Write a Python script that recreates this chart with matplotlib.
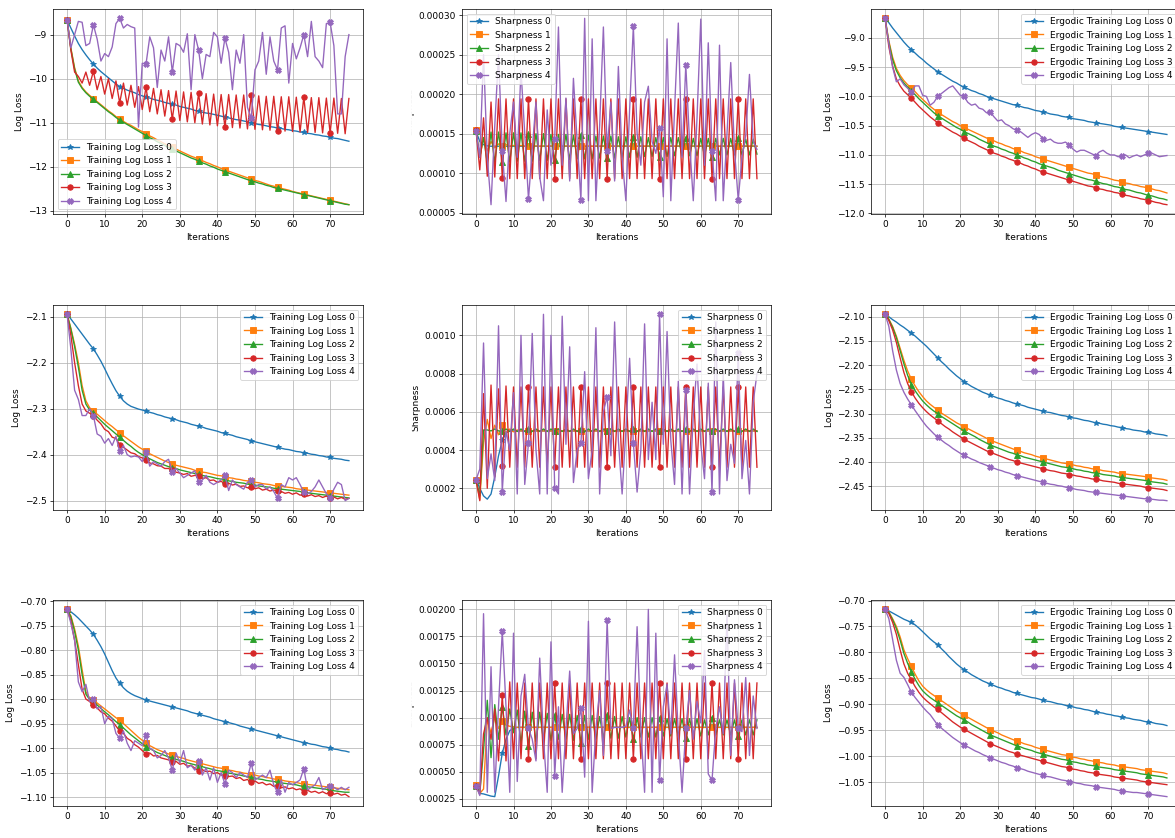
import numpy as np
import matplotlib
matplotlib.use("Agg")
import matplotlib.pyplot as plt
from matplotlib.patches import Rectangle
from matplotlib.ticker import MultipleLocator

# 3x3 grid: training loss / sharpness / ergodic loss for three runs,
# five step-size settings each, 76 iterations per curve.

# ---------------------------------------------------------------------
# run 1
# ---------------------------------------------------------------------
train_1 = [
    [-8.665, -8.85, -9.03, -9.2, -9.34, -9.46, -9.57,
     -9.67, -9.76, -9.84, -9.91, -9.98, -10.05, -10.12,
     -10.18, -10.22, -10.26, -10.29, -10.32, -10.36, -10.39,
     -10.42, -10.44, -10.47, -10.49, -10.51, -10.54, -10.56,
     -10.58, -10.6, -10.63, -10.65, -10.67, -10.69, -10.72,
     -10.74, -10.76, -10.78, -10.79, -10.81, -10.83, -10.85,
     -10.87, -10.89, -10.91, -10.93, -10.94, -10.96, -10.98,
     -11.0, -11.02, -11.04, -11.05, -11.07, -11.09, -11.1,
     -11.12, -11.13, -11.15, -11.16, -11.18, -11.19, -11.21,
     -11.22, -11.24, -11.25, -11.27, -11.28, -11.3, -11.31,
     -11.33, -11.35, -11.36, -11.38, -11.4, -11.42],
    [-8.665, -9.3, -9.75, -10.05, -10.2, -10.3, -10.38,
     -10.45, -10.52, -10.59, -10.66, -10.73, -10.79, -10.86,
     -10.92, -10.97, -11.02, -11.06, -11.11, -11.16, -11.2,
     -11.25, -11.3, -11.34, -11.39, -11.43, -11.48, -11.52,
     -11.56, -11.6, -11.64, -11.68, -11.72, -11.76, -11.79,
     -11.83, -11.86, -11.9, -11.93, -11.97, -12.0, -12.04,
     -12.07, -12.1, -12.13, -12.16, -12.19, -12.22, -12.25,
     -12.28, -12.31, -12.33, -12.36, -12.39, -12.42, -12.44,
     -12.47, -12.49, -12.51, -12.53, -12.56, -12.58, -12.6,
     -12.62, -12.64, -12.66, -12.68, -12.7, -12.72, -12.74,
     -12.76, -12.78, -12.8, -12.82, -12.84, -12.86],
    [-8.665, -9.32, -9.78, -10.08, -10.22, -10.32, -10.4,
     -10.47, -10.54, -10.61, -10.68, -10.75, -10.81, -10.88,
     -10.94, -10.99, -11.04, -11.09, -11.14, -11.19, -11.24,
     -11.29, -11.34, -11.38, -11.43, -11.47, -11.52, -11.56,
     -11.6, -11.64, -11.68, -11.72, -11.76, -11.8, -11.83,
     -11.87, -11.91, -11.94, -11.98, -12.01, -12.05, -12.08,
     -12.11, -12.14, -12.17, -12.2, -12.23, -12.26, -12.29,
     -12.32, -12.34, -12.37, -12.39, -12.42, -12.44, -12.47,
     -12.49, -12.51, -12.53, -12.55, -12.57, -12.59, -12.61,
     -12.63, -12.65, -12.67, -12.69, -12.71, -12.73, -12.75,
     -12.77, -12.79, -12.81, -12.83, -12.85, -12.86],
    [-8.665, -9.35, -9.85, -9.95, -10.1, -9.85, -10.15,
     -9.83, -10.25, -9.95, -10.35, -10.0, -10.45, -10.05,
     -10.55, -10.1, -10.6, -10.15, -10.65, -10.18, -10.7,
     -10.2, -10.75, -10.22, -10.8, -10.25, -10.85, -10.27,
     -10.92, -10.28, -10.95, -10.3, -10.98, -10.31, -11.0,
     -10.33, -11.03, -10.34, -11.05, -10.35, -11.07, -10.36,
     -11.1, -10.36, -11.11, -10.37, -11.12, -10.37, -11.14,
     -10.38, -11.15, -10.39, -11.16, -10.4, -11.17, -10.4,
     -11.18, -10.41, -11.19, -10.41, -11.2, -10.42, -11.21,
     -10.42, -11.22, -10.43, -11.22, -10.43, -11.23, -10.44,
     -11.23, -10.44, -11.24, -10.45, -11.25, -10.45],
    [-8.665, -9.3, -9.0, -8.7, -8.72, -9.25, -9.2,
     -8.78, -9.1, -9.6, -9.43, -9.5, -9.28, -8.75,
     -8.63, -8.85, -8.77, -8.82, -8.85, -11.1, -9.65,
     -9.67, -9.05, -9.3, -10.2, -9.35, -9.6, -9.05,
     -9.85, -9.2, -9.25, -9.4, -8.98, -10.25, -9.0,
     -9.35, -10.0, -9.45, -9.5, -8.95, -9.05, -9.65,
     -9.08, -9.4, -10.25, -9.35, -9.65, -9.0, -10.65,
     -10.9, -9.8, -9.6, -8.95, -9.9, -9.05, -9.6,
     -9.8, -8.85, -8.8, -10.1, -9.2, -9.55, -9.3,
     -9.0, -9.5, -8.7, -9.5, -9.6, -9.75, -8.75,
     -8.72, -9.25, -10.8, -10.8, -9.5, -9.0],
]

# sharpness values in units of 1e-4
sharp_1 = [
    [1.53, 1.40, 1.36, 1.345, 1.34, 1.34, 1.34,
     1.34, 1.34, 1.34, 1.34, 1.34, 1.34, 1.34,
     1.34, 1.34, 1.34, 1.34, 1.34, 1.34, 1.34,
     1.34, 1.34, 1.34, 1.34, 1.34, 1.34, 1.34,
     1.34, 1.34, 1.34, 1.34, 1.34, 1.34, 1.34,
     1.34, 1.34, 1.34, 1.34, 1.34, 1.34, 1.34,
     1.34, 1.34, 1.34, 1.34, 1.34, 1.34, 1.34,
     1.34, 1.34, 1.34, 1.34, 1.34, 1.34, 1.34,
     1.34, 1.34, 1.34, 1.34, 1.34, 1.34, 1.34,
     1.34, 1.34, 1.34, 1.34, 1.34, 1.34, 1.34,
     1.34, 1.34, 1.34, 1.34, 1.34, 1.34],
    [1.54, 1.20, 1.45, 1.28, 1.40, 1.32, 1.37,
     1.34, 1.36, 1.34, 1.35, 1.34, 1.35, 1.34,
     1.345, 1.34, 1.345, 1.34, 1.345, 1.34, 1.345,
     1.34, 1.345, 1.34, 1.345, 1.34, 1.345, 1.34,
     1.345, 1.34, 1.345, 1.34, 1.345, 1.34, 1.345,
     1.34, 1.345, 1.34, 1.345, 1.34, 1.345, 1.34,
     1.345, 1.34, 1.345, 1.34, 1.345, 1.34, 1.345,
     1.34, 1.345, 1.34, 1.345, 1.34, 1.345, 1.34,
     1.345, 1.34, 1.345, 1.34, 1.345, 1.34, 1.345,
     1.34, 1.345, 1.34, 1.345, 1.34, 1.345, 1.34,
     1.345, 1.34, 1.345, 1.34, 1.345, 1.34],
    [1.53, 1.20, 1.45, 1.13, 1.52, 1.13, 1.52,
     1.14, 1.51, 1.14, 1.51, 1.15, 1.51, 1.15,
     1.50, 1.15, 1.50, 1.16, 1.50, 1.16, 1.49,
     1.16, 1.49, 1.17, 1.49, 1.17, 1.48, 1.18,
     1.48, 1.18, 1.48, 1.18, 1.47, 1.19, 1.47,
     1.19, 1.47, 1.19, 1.46, 1.20, 1.46, 1.20,
     1.46, 1.20, 1.46, 1.21, 1.45, 1.21, 1.45,
     1.21, 1.45, 1.21, 1.45, 1.22, 1.45, 1.22,
     1.45, 1.22, 1.44, 1.22, 1.44, 1.22, 1.44,
     1.21, 1.44, 1.23, 1.44, 1.23, 1.44, 1.23,
     1.44, 1.23, 1.43, 1.23, 1.43, 1.24],
    [1.54, 1.04, 1.70, 0.96, 1.90, 0.95, 1.94,
     0.94, 1.94, 0.93, 1.94, 0.93, 1.94, 0.93,
     1.94, 0.93, 1.94, 0.93, 1.94, 0.93, 1.94,
     0.93, 1.94, 0.93, 1.94, 0.93, 1.94, 0.93,
     1.94, 0.93, 1.94, 0.93, 1.94, 0.93, 1.94,
     0.93, 1.94, 0.93, 1.94, 0.93, 1.94, 0.93,
     1.94, 0.93, 1.94, 0.93, 1.94, 0.93, 1.94,
     0.93, 1.94, 0.93, 1.94, 0.93, 1.94, 0.93,
     1.94, 0.93, 1.94, 0.93, 1.94, 0.93, 1.94,
     0.93, 1.94, 0.93, 1.94, 0.93, 1.94, 0.93,
     1.94, 0.93, 1.94, 0.93, 1.94, 0.93],
    [1.53, 1.2, 2.5, 1.2, 0.6, 1.6, 2.5,
     1.28, 0.64, 1.5, 1.9, 1.2, 2.3, 1.5,
     0.67, 1.3, 1.9, 0.95, 0.65, 1.8, 1.1,
     1.43, 2.85, 1.1, 1.95, 0.9, 2.2, 1.4,
     0.66, 2.96, 0.65, 2.7, 0.65, 1.6, 2.85,
     1.28, 1.9, 0.9, 2.35, 1.2, 0.65, 1.8,
     2.86, 1.5, 1.1, 1.9, 2.1, 1.4, 1.25,
     1.57, 0.7, 2.7, 0.65, 1.8, 2.9, 1.2,
     2.37, 1.4, 0.65, 1.7, 2.95, 1.1, 2.65,
     1.28, 0.65, 2.62, 0.65, 1.5, 2.4, 1.3,
     0.66, 1.2, 1.48, 2.25, 1.4, 1.3],
]

ergodic_1 = [
    [-8.665, -8.74, -8.83, -8.91, -8.99, -9.07, -9.14,
     -9.2, -9.26, -9.32, -9.37, -9.43, -9.48, -9.53,
     -9.58, -9.62, -9.66, -9.7, -9.74, -9.77, -9.81,
     -9.84, -9.87, -9.9, -9.92, -9.95, -9.97, -10.0,
     -10.02, -10.04, -10.06, -10.08, -10.1, -10.12, -10.14,
     -10.15, -10.17, -10.19, -10.2, -10.22, -10.24, -10.25,
     -10.27, -10.28, -10.3, -10.31, -10.32, -10.34, -10.35,
     -10.36, -10.38, -10.39, -10.4, -10.41, -10.43, -10.44,
     -10.45, -10.46, -10.47, -10.48, -10.49, -10.51, -10.52,
     -10.53, -10.54, -10.55, -10.56, -10.57, -10.58, -10.59,
     -10.6, -10.61, -10.62, -10.63, -10.64, -10.65],
    [-8.665, -9.05, -9.33, -9.52, -9.64, -9.73, -9.8,
     -9.85, -9.92, -9.99, -10.05, -10.11, -10.17, -10.22,
     -10.27, -10.31, -10.35, -10.39, -10.43, -10.46, -10.5,
     -10.53, -10.56, -10.59, -10.62, -10.65, -10.68, -10.71,
     -10.74, -10.76, -10.79, -10.81, -10.84, -10.86, -10.89,
     -10.91, -10.93, -10.96, -10.98, -11.0, -11.03, -11.05,
     -11.07, -11.09, -11.11, -11.13, -11.15, -11.17, -11.19,
     -11.21, -11.23, -11.25, -11.27, -11.29, -11.31, -11.32,
     -11.34, -11.36, -11.38, -11.39, -11.41, -11.43, -11.44,
     -11.46, -11.48, -11.49, -11.51, -11.52, -11.54, -11.55,
     -11.57, -11.58, -11.6, -11.61, -11.63, -11.65],
    [-8.665, -9.08, -9.37, -9.56, -9.68, -9.77, -9.84,
     -9.9, -9.97, -10.04, -10.1, -10.16, -10.22, -10.28,
     -10.33, -10.37, -10.41, -10.45, -10.49, -10.53, -10.56,
     -10.6, -10.63, -10.66, -10.69, -10.73, -10.76, -10.79,
     -10.82, -10.85, -10.87, -10.9, -10.92, -10.95, -10.97,
     -11.0, -11.02, -11.05, -11.07, -11.1, -11.12, -11.15,
     -11.17, -11.19, -11.21, -11.23, -11.26, -11.28, -11.3,
     -11.32, -11.34, -11.36, -11.38, -11.4, -11.42, -11.43,
     -11.45, -11.47, -11.49, -11.5, -11.52, -11.54, -11.55,
     -11.57, -11.59, -11.6, -11.62, -11.64, -11.65, -11.67,
     -11.69, -11.7, -11.72, -11.74, -11.75, -11.77],
    [-8.665, -9.15, -9.48, -9.7, -9.82, -9.91, -9.97,
     -10.03, -10.1, -10.17, -10.23, -10.29, -10.35, -10.4,
     -10.45, -10.49, -10.53, -10.57, -10.61, -10.64, -10.68,
     -10.71, -10.75, -10.78, -10.81, -10.85, -10.88, -10.91,
     -10.94, -10.97, -10.99, -11.02, -11.04, -11.07, -11.09,
     -11.12, -11.14, -11.17, -11.19, -11.22, -11.24, -11.27,
     -11.29, -11.31, -11.33, -11.35, -11.37, -11.39, -11.41,
     -11.43, -11.45, -11.47, -11.49, -11.51, -11.53, -11.54,
     -11.56, -11.58, -11.59, -11.61, -11.62, -11.64, -11.65,
     -11.67, -11.69, -11.7, -11.72, -11.73, -11.75, -11.76,
     -11.78, -11.79, -11.81, -11.82, -11.84, -11.85],
    [-8.665, -9.1, -9.5, -9.75, -9.7, -9.8, -9.86,
     -9.93, -9.82, -9.82, -9.98, -10.0, -10.15, -10.1,
     -10.0, -9.95, -9.9, -9.85, -9.82, -9.9, -9.98,
     -10.0, -10.1, -10.15, -10.13, -10.2, -10.22, -10.28,
     -10.27, -10.35, -10.42, -10.4, -10.47, -10.5, -10.55,
     -10.58, -10.6, -10.65, -10.7, -10.65, -10.62, -10.65,
     -10.72, -10.75, -10.73, -10.78, -10.8, -10.8, -10.78,
     -10.83, -10.9, -10.95, -10.92, -10.92, -10.95, -10.98,
     -11.01, -10.95, -10.92, -10.97, -11.0, -11.0, -11.03,
     -11.02, -11.0, -11.05, -11.02, -11.0, -11.03, -11.0,
     -10.97, -10.97, -11.0, -11.03, -11.02, -11.01],
]

# ---------------------------------------------------------------------
# run 2
# ---------------------------------------------------------------------
train_2 = [
    [-2.095, -2.105, -2.116, -2.127, -2.138, -2.149, -2.16,
     -2.17, -2.183, -2.197, -2.213, -2.23, -2.246, -2.261,
     -2.273, -2.283, -2.29, -2.295, -2.298, -2.301, -2.303,
     -2.305, -2.308, -2.31, -2.313, -2.315, -2.318, -2.32,
     -2.322, -2.324, -2.327, -2.329, -2.331, -2.334, -2.336,
     -2.338, -2.34, -2.343, -2.345, -2.347, -2.349, -2.352,
     -2.354, -2.356, -2.358, -2.361, -2.363, -2.365, -2.367,
     -2.37, -2.372, -2.374, -2.376, -2.378, -2.38, -2.382,
     -2.384, -2.386, -2.388, -2.389, -2.391, -2.393, -2.394,
     -2.396, -2.397, -2.399, -2.4, -2.402, -2.403, -2.405,
     -2.406, -2.408, -2.409, -2.41, -2.412, -2.413],
    [-2.095, -2.125, -2.16, -2.2, -2.25, -2.283, -2.298,
     -2.305, -2.312, -2.319, -2.326, -2.333, -2.339, -2.346,
     -2.352, -2.359, -2.365, -2.371, -2.377, -2.383, -2.388,
     -2.393, -2.398, -2.402, -2.406, -2.41, -2.414, -2.417,
     -2.42, -2.423, -2.425, -2.427, -2.429, -2.431, -2.434,
     -2.436, -2.438, -2.439, -2.441, -2.443, -2.445, -2.446,
     -2.448, -2.45, -2.451, -2.453, -2.454, -2.456, -2.457,
     -2.458, -2.46, -2.461, -2.463, -2.464, -2.465, -2.467,
     -2.468, -2.469, -2.47, -2.471, -2.472, -2.474, -2.475,
     -2.476, -2.477, -2.478, -2.479, -2.48, -2.481, -2.482,
     -2.483, -2.484, -2.485, -2.486, -2.487, -2.488],
    [-2.095, -2.127, -2.165, -2.21, -2.26, -2.29, -2.303,
     -2.31, -2.318, -2.326, -2.334, -2.341, -2.348, -2.355,
     -2.362, -2.369, -2.376, -2.382, -2.389, -2.395, -2.4,
     -2.405, -2.409, -2.413, -2.417, -2.42, -2.423, -2.426,
     -2.428, -2.43, -2.433, -2.435, -2.437, -2.439, -2.441,
     -2.443, -2.445, -2.447, -2.448, -2.45, -2.452, -2.453,
     -2.455, -2.457, -2.458, -2.46, -2.461, -2.462, -2.464,
     -2.465, -2.466, -2.468, -2.469, -2.47, -2.471, -2.473,
     -2.474, -2.475, -2.476, -2.477, -2.478, -2.479, -2.48,
     -2.482, -2.483, -2.484, -2.485, -2.486, -2.487, -2.488,
     -2.489, -2.49, -2.491, -2.492, -2.493, -2.494],
    [-2.095, -2.14, -2.2, -2.25, -2.29, -2.305, -2.31,
     -2.315, -2.325, -2.333, -2.345, -2.35, -2.362, -2.365,
     -2.378, -2.384, -2.39, -2.396, -2.398, -2.404, -2.407,
     -2.412, -2.418, -2.42, -2.424, -2.425, -2.43, -2.43,
     -2.434, -2.438, -2.44, -2.443, -2.441, -2.447, -2.445,
     -2.447, -2.452, -2.45, -2.456, -2.455, -2.46, -2.458,
     -2.463, -2.462, -2.466, -2.464, -2.469, -2.468, -2.472,
     -2.47, -2.474, -2.472, -2.477, -2.475, -2.479, -2.477,
     -2.478, -2.48, -2.484, -2.482, -2.486, -2.483, -2.488,
     -2.486, -2.49, -2.487, -2.491, -2.489, -2.493, -2.49,
     -2.495, -2.492, -2.496, -2.493, -2.497, -2.495],
    [-2.095, -2.17, -2.26, -2.28, -2.315, -2.315, -2.3,
     -2.315, -2.355, -2.36, -2.375, -2.365, -2.38, -2.36,
     -2.393, -2.38, -2.4, -2.405, -2.403, -2.405, -2.415,
     -2.395, -2.425, -2.415, -2.42, -2.425, -2.415, -2.41,
     -2.437, -2.43, -2.44, -2.45, -2.445, -2.44, -2.435,
     -2.46, -2.455, -2.445, -2.46, -2.465, -2.46, -2.455,
     -2.445, -2.478, -2.455, -2.465, -2.47, -2.475, -2.46,
     -2.455, -2.47, -2.465, -2.465, -2.475, -2.47, -2.48,
     -2.495, -2.465, -2.47, -2.45, -2.455, -2.45, -2.465,
     -2.482, -2.485, -2.48, -2.47, -2.455, -2.47, -2.485,
     -2.495, -2.475, -2.46, -2.465, -2.5, -2.495],
]

sharp_2 = [
    [2.45, 2.0, 1.6, 1.43, 1.7, 2.6, 3.7,
     4.5, 4.9, 5.0, 5.0, 5.0, 5.0, 5.0,
     5.0, 5.0, 5.0, 5.0, 5.0, 5.0, 5.0,
     5.0, 5.0, 5.0, 5.0, 5.0, 5.0, 5.0,
     5.0, 5.0, 5.0, 5.0, 5.0, 5.0, 5.0,
     5.0, 5.0, 5.0, 5.0, 5.0, 5.0, 5.0,
     5.0, 5.0, 5.0, 5.0, 5.0, 5.0, 5.0,
     5.0, 5.0, 5.0, 5.0, 5.0, 5.0, 5.0,
     5.0, 5.0, 5.0, 5.0, 5.0, 5.0, 5.0,
     5.0, 5.0, 5.0, 5.0, 5.0, 5.0, 5.0,
     5.0, 5.0, 5.0, 5.0, 5.0, 5.0],
    [2.45, 1.4, 4.4, 5.6, 4.6, 5.3, 4.8,
     5.3, 4.9, 5.1, 4.95, 5.05, 5.0, 5.0,
     5.0, 5.0, 5.0, 5.0, 5.0, 5.0, 5.0,
     5.0, 5.0, 5.0, 5.0, 5.0, 5.0, 5.0,
     5.0, 5.0, 5.0, 5.0, 5.0, 5.0, 5.0,
     5.0, 5.0, 5.0, 5.0, 5.0, 5.0, 5.0,
     5.0, 5.0, 5.0, 5.0, 5.0, 5.0, 5.0,
     5.0, 5.0, 5.0, 5.0, 5.0, 5.0, 5.0,
     5.0, 5.0, 5.0, 5.0, 5.0, 5.0, 5.0,
     5.0, 5.0, 5.0, 5.0, 5.0, 5.0, 5.0,
     5.0, 5.0, 5.0, 5.0, 5.0, 5.0],
    [2.45, 1.6, 5.05, 5.05, 5.0, 5.1, 5.0,
     4.97, 5.1, 4.97, 5.1, 4.97, 5.1, 4.97,
     5.1, 4.97, 5.1, 4.97, 5.1, 4.97, 5.1,
     4.97, 5.1, 4.97, 5.1, 4.97, 5.1, 4.97,
     5.1, 4.97, 5.1, 4.97, 5.1, 4.97, 5.1,
     4.97, 5.1, 4.97, 5.1, 4.97, 5.1, 4.97,
     5.1, 4.97, 5.1, 4.97, 5.1, 4.97, 5.1,
     4.97, 5.1, 4.97, 5.1, 4.97, 5.1, 4.97,
     5.1, 4.97, 5.1, 4.97, 5.1, 4.97, 5.1,
     4.97, 5.1, 4.97, 5.1, 4.97, 5.1, 4.97,
     5.1, 4.97, 5.1, 4.97, 5.1, 4.97],
    [2.45, 1.35, 6.95, 2.0, 7.4, 2.6, 7.2,
     3.18, 7.35, 3.1, 7.3, 3.1, 7.3, 3.1,
     7.3, 3.1, 7.3, 3.1, 7.3, 3.1, 7.3,
     3.1, 7.3, 3.1, 7.3, 3.1, 7.3, 3.1,
     7.3, 3.1, 7.3, 3.1, 7.3, 3.1, 7.3,
     3.1, 7.3, 3.1, 7.3, 3.1, 7.3, 3.1,
     7.3, 3.1, 7.3, 3.1, 7.3, 3.1, 7.3,
     3.1, 7.3, 3.1, 7.3, 3.1, 7.3, 3.1,
     7.3, 3.1, 7.3, 3.1, 7.3, 3.1, 7.3,
     3.1, 7.3, 3.1, 7.3, 3.1, 7.3, 3.1,
     7.3, 3.1, 7.3, 3.1, 7.3, 3.1],
    [2.45, 3.0, 9.6, 2.5, 3.8, 2.4, 10.5,
     1.83, 5.0, 4.0, 7.0, 1.7, 10.0, 2.2,
     4.35, 10.1, 4.0, 1.7, 11.1, 1.7, 10.0,
     2.02, 1.7, 11.0, 4.3, 9.4, 2.3, 4.0,
     4.35, 8.1, 2.5, 4.0, 10.4, 1.7, 6.0,
     6.8, 3.7, 10.7, 4.5, 1.7, 5.0, 8.8,
     4.35, 1.8, 4.0, 10.6, 3.5, 6.5, 3.5,
     11.1, 4.3, 10.2, 4.5, 2.2, 7.6, 1.7,
     7.15, 1.7, 5.8, 8.5, 4.3, 2.5, 7.5,
     1.78, 10.7, 1.7, 8.0, 2.4, 4.3, 3.3,
     9.1, 2.5, 4.5, 1.7, 6.5, 8.0],
]

ergodic_2 = [
    [-2.095, -2.1, -2.106, -2.111, -2.117, -2.122, -2.128,
     -2.134, -2.14, -2.147, -2.154, -2.161, -2.169, -2.177,
     -2.185, -2.193, -2.2, -2.208, -2.215, -2.222, -2.228,
     -2.234, -2.239, -2.244, -2.248, -2.252, -2.256, -2.259,
     -2.262, -2.265, -2.268, -2.27, -2.273, -2.275, -2.278,
     -2.28, -2.282, -2.284, -2.287, -2.289, -2.291, -2.293,
     -2.295, -2.297, -2.298, -2.3, -2.302, -2.304, -2.305,
     -2.307, -2.309, -2.31, -2.312, -2.314, -2.315, -2.317,
     -2.319, -2.32, -2.322, -2.323, -2.325, -2.326, -2.328,
     -2.329, -2.331, -2.332, -2.334, -2.335, -2.336, -2.338,
     -2.339, -2.34, -2.342, -2.343, -2.344, -2.346],
    [-2.095, -2.105, -2.12, -2.14, -2.165, -2.19, -2.212,
     -2.229, -2.243, -2.255, -2.265, -2.274, -2.281, -2.287,
     -2.293, -2.299, -2.304, -2.309, -2.314, -2.319, -2.323,
     -2.327, -2.331, -2.335, -2.339, -2.343, -2.347, -2.351,
     -2.355, -2.358, -2.361, -2.364, -2.367, -2.37, -2.373,
     -2.376, -2.378, -2.381, -2.383, -2.385, -2.388, -2.39,
     -2.392, -2.394, -2.396, -2.398, -2.4, -2.402, -2.403,
     -2.405, -2.406, -2.408, -2.409, -2.411, -2.412, -2.414,
     -2.415, -2.416, -2.418, -2.419, -2.42, -2.421, -2.423,
     -2.424, -2.425, -2.426, -2.427, -2.428, -2.429, -2.43,
     -2.432, -2.433, -2.434, -2.435, -2.436, -2.438],
    [-2.095, -2.106, -2.122, -2.143, -2.17, -2.197, -2.221,
     -2.24, -2.253, -2.264, -2.274, -2.282, -2.289, -2.295,
     -2.3, -2.306, -2.311, -2.316, -2.321, -2.326, -2.331,
     -2.336, -2.34, -2.344, -2.348, -2.353, -2.357, -2.361,
     -2.365, -2.368, -2.371, -2.374, -2.377, -2.38, -2.382,
     -2.385, -2.387, -2.39, -2.392, -2.394, -2.396, -2.398,
     -2.4, -2.402, -2.404, -2.406, -2.408, -2.41, -2.411,
     -2.413, -2.414, -2.416, -2.417, -2.419, -2.42, -2.422,
     -2.423, -2.424, -2.426, -2.427, -2.428, -2.429, -2.431,
     -2.432, -2.433, -2.434, -2.435, -2.436, -2.437, -2.438,
     -2.44, -2.441, -2.442, -2.443, -2.444, -2.446],
    [-2.095, -2.108, -2.127, -2.153, -2.185, -2.215, -2.238,
     -2.255, -2.268, -2.279, -2.288, -2.296, -2.303, -2.309,
     -2.315, -2.321, -2.327, -2.332, -2.338, -2.343, -2.348,
     -2.353, -2.357, -2.361, -2.365, -2.369, -2.373, -2.377,
     -2.38, -2.383, -2.386, -2.389, -2.392, -2.395, -2.397,
     -2.4, -2.402, -2.404, -2.406, -2.408, -2.41, -2.412,
     -2.414, -2.416, -2.418, -2.419, -2.421, -2.423, -2.424,
     -2.426, -2.427, -2.429, -2.43, -2.432, -2.433, -2.435,
     -2.436, -2.437, -2.439, -2.44, -2.441, -2.442, -2.444,
     -2.445, -2.446, -2.447, -2.448, -2.449, -2.45, -2.452,
     -2.453, -2.454, -2.455, -2.456, -2.457, -2.459],
    [-2.095, -2.12, -2.17, -2.21, -2.238, -2.256, -2.27,
     -2.282, -2.294, -2.305, -2.316, -2.326, -2.334, -2.342,
     -2.349, -2.355, -2.361, -2.366, -2.372, -2.377, -2.382,
     -2.386, -2.39, -2.394, -2.397, -2.401, -2.404, -2.407,
     -2.41, -2.413, -2.416, -2.418, -2.421, -2.423, -2.426,
     -2.428, -2.43, -2.432, -2.434, -2.436, -2.438, -2.44,
     -2.442, -2.444, -2.446, -2.447, -2.449, -2.45, -2.452,
     -2.454, -2.455, -2.457, -2.458, -2.459, -2.461, -2.462,
     -2.463, -2.464, -2.465, -2.466, -2.467, -2.468, -2.469,
     -2.47, -2.471, -2.472, -2.473, -2.474, -2.475, -2.476,
     -2.476, -2.477, -2.478, -2.479, -2.479, -2.48],
]

# ---------------------------------------------------------------------
# run 3
# ---------------------------------------------------------------------
train_3 = [
    [-0.717, -0.722, -0.728, -0.735, -0.743, -0.751, -0.759,
     -0.768, -0.78, -0.793, -0.808, -0.825, -0.842, -0.857,
     -0.868, -0.877, -0.884, -0.889, -0.893, -0.896, -0.899,
     -0.902, -0.904, -0.906, -0.908, -0.91, -0.912, -0.914,
     -0.916, -0.918, -0.92, -0.922, -0.924, -0.927, -0.929,
     -0.931, -0.933, -0.935, -0.937, -0.94, -0.942, -0.944,
     -0.946, -0.948, -0.95, -0.952, -0.955, -0.957, -0.959,
     -0.961, -0.963, -0.965, -0.967, -0.969, -0.971, -0.973,
     -0.975, -0.977, -0.979, -0.981, -0.983, -0.985, -0.987,
     -0.989, -0.99, -0.992, -0.993, -0.995, -0.997, -0.998,
     -1.0, -1.002, -1.003, -1.005, -1.006, -1.008],
    [-0.717, -0.73, -0.757, -0.792, -0.84, -0.885, -0.898,
     -0.902, -0.908, -0.914, -0.92, -0.926, -0.932, -0.938,
     -0.943, -0.95, -0.957, -0.964, -0.971, -0.978, -0.984,
     -0.99, -0.995, -0.999, -1.003, -1.006, -1.009, -1.012,
     -1.015, -1.017, -1.019, -1.021, -1.024, -1.026, -1.028,
     -1.03, -1.032, -1.034, -1.036, -1.038, -1.04, -1.041,
     -1.043, -1.045, -1.046, -1.048, -1.049, -1.051, -1.052,
     -1.054, -1.055, -1.057, -1.058, -1.06, -1.061, -1.063,
     -1.064, -1.065, -1.067, -1.068, -1.069, -1.07, -1.072,
     -1.073, -1.074, -1.075, -1.076, -1.077, -1.078, -1.079,
     -1.08, -1.081, -1.082, -1.083, -1.084, -1.085],
    [-0.717, -0.732, -0.762, -0.8, -0.85, -0.89, -0.901,
     -0.905, -0.912, -0.919, -0.926, -0.932, -0.939, -0.946,
     -0.952, -0.959, -0.966, -0.973, -0.979, -0.985, -0.991,
     -0.997, -1.001, -1.005, -1.009, -1.012, -1.015, -1.018,
     -1.02, -1.023, -1.025, -1.027, -1.03, -1.032, -1.034,
     -1.036, -1.038, -1.04, -1.042, -1.044, -1.046, -1.047,
     -1.049, -1.051, -1.052, -1.054, -1.055, -1.057, -1.058,
     -1.06, -1.061, -1.063, -1.064, -1.066, -1.067, -1.068,
     -1.07, -1.071, -1.072, -1.073, -1.074, -1.075, -1.077,
     -1.078, -1.079, -1.08, -1.081, -1.082, -1.083, -1.084,
     -1.086, -1.087, -1.088, -1.089, -1.09, -1.09],
    [-0.717, -0.74, -0.78, -0.83, -0.88, -0.9, -0.905,
     -0.913, -0.918, -0.926, -0.93, -0.939, -0.945, -0.955,
     -0.965, -0.97, -0.98, -0.985, -0.993, -0.998, -1.005,
     -1.012, -1.01, -1.016, -1.015, -1.02, -1.022, -1.024,
     -1.028, -1.027, -1.033, -1.031, -1.037, -1.035, -1.041,
     -1.047, -1.044, -1.048, -1.047, -1.052, -1.05, -1.055,
     -1.056, -1.058, -1.057, -1.062, -1.06, -1.066, -1.064,
     -1.07, -1.067, -1.072, -1.07, -1.075, -1.073, -1.078,
     -1.077, -1.081, -1.079, -1.083, -1.081, -1.085, -1.083,
     -1.089, -1.086, -1.09, -1.088, -1.092, -1.089, -1.093,
     -1.091, -1.094, -1.092, -1.096, -1.094, -1.099],
    [-0.717, -0.745, -0.78, -0.865, -0.885, -0.87, -0.905,
     -0.9, -0.92, -0.915, -0.95, -0.935, -0.94, -0.97,
     -0.98, -0.965, -0.99, -1.005, -0.985, -0.99, -0.995,
     -0.974, -1.0, -1.005, -1.02, -1.015, -1.005, -1.02,
     -1.045, -1.01, -1.03, -1.005, -1.04, -1.035, -1.045,
     -1.026, -1.055, -1.04, -1.065, -1.04, -1.07, -1.05,
     -1.073, -1.045, -1.05, -1.06, -1.05, -1.055, -1.06,
     -1.031, -1.065, -1.06, -1.055, -1.06, -1.045, -1.075,
     -1.09, -1.065, -1.09, -1.07, -1.075, -1.07, -1.065,
     -1.042, -1.085, -1.08, -1.075, -1.06, -1.085, -1.08,
     -1.078, -1.08, -1.085, -1.08, -1.085, -1.08],
]

sharp_3 = [
    [3.7, 3.0, 2.95, 2.85, 2.75, 2.7, 4.6,
     6.7, 8.0, 8.8, 9.0, 9.1, 9.1, 9.1,
     9.1, 9.1, 9.1, 9.1, 9.1, 9.1, 9.1,
     9.1, 9.1, 9.1, 9.1, 9.1, 9.1, 9.1,
     9.1, 9.1, 9.1, 9.1, 9.1, 9.1, 9.1,
     9.1, 9.1, 9.1, 9.1, 9.1, 9.1, 9.1,
     9.1, 9.1, 9.1, 9.1, 9.1, 9.1, 9.1,
     9.1, 9.1, 9.1, 9.1, 9.1, 9.1, 9.1,
     9.1, 9.1, 9.1, 9.1, 9.1, 9.1, 9.1,
     9.1, 9.1, 9.1, 9.1, 9.1, 9.1, 9.1,
     9.1, 9.1, 9.1, 9.1, 9.1, 9.1],
    [3.8, 3.0, 3.4, 9.8, 8.6, 10.0, 9.0,
     9.7, 9.3, 9.2, 9.15, 9.1, 9.1, 9.1,
     9.1, 9.1, 9.1, 9.1, 9.1, 9.1, 9.1,
     9.1, 9.1, 9.1, 9.1, 9.1, 9.1, 9.1,
     9.1, 9.1, 9.1, 9.1, 9.1, 9.1, 9.1,
     9.1, 9.1, 9.1, 9.1, 9.1, 9.1, 9.1,
     9.1, 9.1, 9.1, 9.1, 9.1, 9.1, 9.1,
     9.1, 9.1, 9.1, 9.1, 9.1, 9.1, 9.1,
     9.1, 9.1, 9.1, 9.1, 9.1, 9.1, 9.1,
     9.1, 9.1, 9.1, 9.1, 9.1, 9.1, 9.1,
     9.1, 9.1, 9.1, 9.1, 9.1, 9.1],
    [3.7, 3.0, 7.0, 11.6, 6.3, 11.2, 8.0,
     11.0, 8.4, 10.8, 8.6, 10.7, 7.6, 10.6,
     7.4, 10.5, 7.8, 10.5, 7.9, 10.4, 7.9,
     10.2, 8.0, 10.3, 8.0, 10.3, 7.9, 10.2,
     7.7, 10.2, 8.0, 10.2, 8.0, 10.1, 8.1,
     10.2, 8.1, 10.1, 8.1, 10.1, 8.2, 10.0,
     8.0, 10.0, 8.2, 10.0, 8.2, 10.0, 8.2,
     10.0, 8.3, 9.9, 8.3, 9.9, 8.3, 9.9,
     8.1, 9.9, 8.3, 9.9, 8.3, 9.8, 8.4,
     10.0, 8.4, 9.8, 8.4, 9.8, 8.4, 9.8,
     8.3, 9.8, 8.4, 9.8, 8.4, 9.8],
    [3.7, 2.9, 8.5, 10.0, 8.0, 10.8, 6.0,
     12.1, 6.0, 13.3, 6.2, 13.2, 6.2, 13.2,
     6.2, 13.2, 6.2, 13.2, 6.2, 13.2, 6.2,
     13.2, 6.2, 13.2, 6.2, 13.2, 6.2, 13.2,
     6.2, 13.2, 6.2, 13.2, 6.2, 13.2, 6.2,
     13.2, 6.2, 13.2, 6.2, 13.2, 6.2, 13.2,
     6.2, 13.2, 6.2, 13.2, 6.2, 13.2, 6.2,
     13.2, 6.2, 13.2, 6.2, 13.2, 6.2, 13.2,
     6.2, 13.2, 6.2, 13.2, 6.2, 13.2, 6.2,
     13.2, 6.2, 13.2, 6.2, 13.2, 6.2, 13.2,
     6.2, 13.2, 6.2, 13.2, 6.2, 13.2],
    [3.7, 2.8, 19.6, 3.1, 14.7, 3.1, 11.0,
     18.0, 11.0, 3.1, 17.8, 4.1, 12.0, 14.0,
     9.0, 8.0, 6.0, 15.5, 8.0, 3.1, 17.0,
     4.6, 11.0, 3.1, 9.0, 14.3, 8.5, 9.0,
     10.9, 4.5, 18.9, 3.1, 9.0, 12.5, 6.5,
     19.0, 9.0, 9.1, 9.1, 9.1, 9.2, 10.7,
     9.0, 18.4, 9.0, 3.1, 20.0, 3.1, 17.8,
     4.2, 11.0, 13.1, 8.5, 15.8, 8.5, 3.1,
     9.0, 12.5, 8.0, 11.5, 9.5, 16.2, 4.8,
     4.2, 9.0, 11.0, 8.5, 19.5, 6.5, 13.5,
     9.0, 8.7, 13.7, 6.5, 12.0, 9.0],
]

ergodic_3 = [
    [-0.717, -0.72, -0.724, -0.728, -0.732, -0.736, -0.739,
     -0.742, -0.747, -0.753, -0.76, -0.767, -0.774, -0.78,
     -0.785, -0.793, -0.8, -0.808, -0.815, -0.822, -0.828,
     -0.833, -0.838, -0.843, -0.847, -0.851, -0.855, -0.858,
     -0.861, -0.864, -0.867, -0.869, -0.872, -0.874, -0.877,
     -0.879, -0.881, -0.883, -0.885, -0.887, -0.888, -0.89,
     -0.892, -0.894, -0.895, -0.897, -0.899, -0.9, -0.902,
     -0.904, -0.905, -0.907, -0.908, -0.91, -0.911, -0.913,
     -0.915, -0.916, -0.917, -0.919, -0.92, -0.922, -0.923,
     -0.925, -0.926, -0.927, -0.929, -0.93, -0.931, -0.933,
     -0.934, -0.935, -0.937, -0.938, -0.939, -0.941],
    [-0.717, -0.722, -0.735, -0.75, -0.77, -0.795, -0.812,
     -0.827, -0.842, -0.855, -0.865, -0.872, -0.878, -0.883,
     -0.888, -0.893, -0.898, -0.903, -0.908, -0.913, -0.917,
     -0.921, -0.925, -0.929, -0.933, -0.937, -0.941, -0.945,
     -0.949, -0.952, -0.955, -0.959, -0.962, -0.965, -0.968,
     -0.971, -0.973, -0.976, -0.978, -0.98, -0.983, -0.985,
     -0.987, -0.989, -0.991, -0.993, -0.995, -0.997, -0.998,
     -1.0, -1.002, -1.003, -1.005, -1.006, -1.008, -1.009,
     -1.011, -1.012, -1.013, -1.015, -1.016, -1.017, -1.019,
     -1.02, -1.021, -1.022, -1.023, -1.024, -1.026, -1.027,
     -1.028, -1.029, -1.03, -1.031, -1.032, -1.034],
    [-0.717, -0.723, -0.737, -0.754, -0.776, -0.802, -0.821,
     -0.837, -0.852, -0.864, -0.874, -0.881, -0.887, -0.892,
     -0.897, -0.902, -0.907, -0.912, -0.917, -0.922, -0.926,
     -0.93, -0.934, -0.939, -0.943, -0.947, -0.951, -0.955,
     -0.959, -0.962, -0.965, -0.968, -0.971, -0.974, -0.977,
     -0.98, -0.982, -0.985, -0.987, -0.989, -0.992, -0.994,
     -0.996, -0.998, -1.0, -1.002, -1.004, -1.006, -1.007,
     -1.009, -1.011, -1.012, -1.014, -1.015, -1.017, -1.018,
     -1.019, -1.021, -1.022, -1.023, -1.024, -1.026, -1.027,
     -1.028, -1.029, -1.03, -1.031, -1.032, -1.034, -1.035,
     -1.036, -1.037, -1.038, -1.039, -1.04, -1.042],
    [-0.717, -0.725, -0.742, -0.765, -0.795, -0.822, -0.84,
     -0.853, -0.866, -0.877, -0.886, -0.893, -0.899, -0.905,
     -0.91, -0.916, -0.922, -0.928, -0.934, -0.939, -0.944,
     -0.948, -0.952, -0.956, -0.96, -0.964, -0.968, -0.972,
     -0.976, -0.979, -0.982, -0.985, -0.988, -0.991, -0.993,
     -0.996, -0.998, -1.0, -1.002, -1.004, -1.006, -1.008,
     -1.01, -1.012, -1.014, -1.016, -1.018, -1.02, -1.021,
     -1.023, -1.025, -1.026, -1.028, -1.029, -1.031, -1.032,
     -1.033, -1.035, -1.036, -1.037, -1.038, -1.04, -1.041,
     -1.042, -1.043, -1.044, -1.045, -1.046, -1.048, -1.049,
     -1.05, -1.051, -1.052, -1.053, -1.054, -1.055],
    [-0.717, -0.735, -0.775, -0.815, -0.84, -0.848, -0.862,
     -0.877, -0.887, -0.896, -0.905, -0.913, -0.92, -0.93,
     -0.94, -0.946, -0.952, -0.958, -0.964, -0.969, -0.974,
     -0.978, -0.982, -0.986, -0.99, -0.993, -0.997, -1.0,
     -1.003, -1.006, -1.009, -1.012, -1.014, -1.017, -1.019,
     -1.022, -1.024, -1.026, -1.029, -1.031, -1.033, -1.035,
     -1.037, -1.039, -1.04, -1.042, -1.044, -1.046, -1.047,
     -1.049, -1.05, -1.052, -1.053, -1.055, -1.056, -1.057,
     -1.059, -1.06, -1.061, -1.062, -1.063, -1.064, -1.066,
     -1.067, -1.068, -1.069, -1.07, -1.07, -1.071, -1.072,
     -1.073, -1.074, -1.075, -1.076, -1.077, -1.078],
]

COLORS = ["tab:blue", "tab:orange", "tab:green", "tab:red", "tab:purple"]
MARKERS = ["*", "s", "^", "o", "X"]
SHARP_UNIT = 1e-4

W, H, DPI = 1175, 838, 65
fig = plt.figure(figsize=(W / DPI, H / DPI), dpi=DPI)

# axes boxes in pixels: left, top, width, height
col_left = [53, 462, 871]
col_width = [310, 309, 310]
row_top = [9, 305, 600]
row_height = [205, 205, 206]


def make_ax(r, c):
    l, t = col_left[c], row_top[r]
    w, h = col_width[c], row_height[r]
    return fig.add_axes([l / W, 1 - (t + h) / H, w / W, h / H])


def draw(ax, series, name, ylabel, loc, unit=1.0, ystep=None):
    for i, ys in enumerate(series):
        ys = np.asarray(ys) * unit
        ax.plot(np.arange(len(ys)), ys, color=COLORS[i], marker=MARKERS[i],
                markevery=7, label=f"{name} {i}")
    ax.set_xlabel("Iterations")
    ax.set_ylabel(ylabel)
    if ystep:
        ax.yaxis.set_major_locator(MultipleLocator(ystep))
    ax.grid(True)
    ax.legend(loc=loc)


rows = [
    (train_1, sharp_1, ergodic_1, ["lower left", "upper left", "upper right"], None),
    (train_2, sharp_2, ergodic_2, ["upper right"] * 3, 0.1),
    (train_3, sharp_3, ergodic_3, ["upper right"] * 3, None),
]

for r, (tr, sh, eg, locs, step) in enumerate(rows):
    draw(make_ax(r, 0), tr, "Training Log Loss", "Log Loss", locs[0], ystep=step)
    draw(make_ax(r, 1), sh, "Sharpness", "Sharpness", locs[1], unit=SHARP_UNIT)
    draw(make_ax(r, 2), eg, "Ergodic Training Log Loss", "Log Loss", locs[2])

# the sharpness panels are trimmed on the left, hiding most of their y-label
fig.add_artist(Rectangle((366 / W, 0), (411 - 366) / W, 1,
                         transform=fig.transFigure, color="white", zorder=5))

fig.savefig("out.png", dpi=DPI)
